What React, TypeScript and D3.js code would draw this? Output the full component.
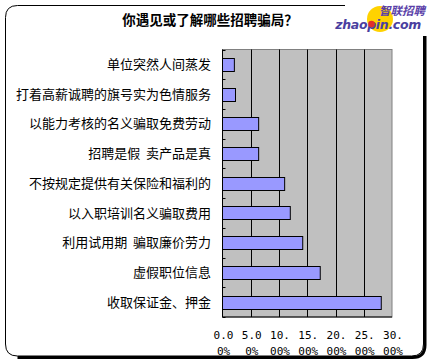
import React from "react";
import * as d3 from "d3";

const categories = [
  "单位突然人间蒸发",
  "打着高薪诚聘的旗号实为色情服务",
  "以能力考核的名义骗取免费劳动",
  "招聘是假  卖产品是真",
  "不按规定提供有关保险和福利的",
  "以入职培训名义骗取费用",
  "利用试用期  骗取廉价劳力",
  "虚假职位信息",
  "收取保证金、押金",
];
const values = [2.1, 2.3, 6.4, 6.4, 11.0, 12.0, 14.2, 17.3, 28.1];
const tickValues = [0, 5, 10, 15, 20, 25, 30];
const tickLabels = [
  ["0.0", "0%"],
  ["5.0", "0%"],
  ["10.", "00%"],
  ["15.", "00%"],
  ["20.", "00%"],
  ["25.", "00%"],
  ["30.", "00%"],
];
const title = "你遇见或了解哪些招聘骗局？";

export default function App() {
  const W = 433, H = 364;
  const left = 222.5, right = 392, top = 49.5, bottom = 317;
  const x = d3.scaleLinear().domain([0, 30]).range([left, right]);
  const y = d3.scaleBand<string>().domain(categories).range([top, bottom]).paddingInner(0.56).paddingOuter(0.28);
  const step = (bottom - top) / categories.length;
  const cjk = "'Noto Sans CJK SC', sans-serif";

  const r = 12;
  const fx0 = 5.5, fy0 = 5.5, fx1 = 423.5, fy1 = 356;
  return (
    <svg width={W} height={H} style={{ position: "absolute", left: 0, top: 0, background: "#fff" }}>
      {/* frame */}
      <path
        d={`M${fx0 + r},${fy0} H${fx1 - r} Q${fx1},${fy0} ${fx1},${fy0 + r} V${fy1 - r} Q${fx1},${fy1} ${fx1 - r},${fy1} H${fx0 + r} Q${fx0},${fy1} ${fx0},${fy1 - r} V${fy0 + r} Q${fx0},${fy0} ${fx0 + r},${fy0} Z`}
        fill="none"
        stroke="#000"
        strokeWidth={1}
      />
      <path
        d={`M${fx1 + 1.5},${fy0 + r} V${fy1 - r + 1} Q${fx1 + 1.5},${fy1 + 1.5} ${fx1 - r + 1},${fy1 + 1.5} H${fx0 + r}`}
        fill="none"
        stroke="#000"
        strokeWidth={3}
      />
      {/* logo area */}
      <rect x={345} y={0} width={88} height={36} fill="#fff" />
      <circle cx={380} cy={19} r={13} fill="#FFD200" />
      <text x={425} y={15} textAnchor="end" fontFamily={cjk} fontSize={11.5} fontStyle="italic" fontWeight="bold" fill="#5A3FA8">智联招聘</text>
      <text x={421} y={29} textAnchor="end" fontFamily="'DejaVu Sans', sans-serif" fontSize={12.5} fontStyle="italic" fontWeight="bold" fill="#4A3FA0" letterSpacing={-0.3}>zhaopin.com</text>
      <circle cx={371.5} cy={24} r={3.3} fill="#E0302A" />
      {/* title */}
      <text x={210} y={25} textAnchor="middle" fontFamily={cjk} fontSize={13.5} fontWeight="bold" fill="#000">{title}</text>
      {/* plot area */}
      <rect x={left} y={top} width={right - left} height={bottom - top} fill="#C0C0C0" stroke="#808080" strokeWidth={1} />
      {tickValues.slice(1, -1).map((t) => (
        <line key={t} x1={Math.round(x(t)) + 0.5} x2={Math.round(x(t)) + 0.5} y1={top} y2={bottom} stroke="#000" />
      ))}
      {categories.map((c, i) => (
        <rect
          key={c}
          x={left}
          y={Math.round(y(c)!) + 0.5}
          width={x(values[i]) - left}
          height={Math.round(y.bandwidth())}
          fill="#9999FF"
          stroke="#000"
          strokeWidth={1}
        />
      ))}
      {/* axes */}
      <line x1={left} x2={left} y1={top} y2={bottom} stroke="#000" />
      <line x1={left} x2={right} y1={bottom} y2={bottom} stroke="#000" />
      {d3.range(categories.length + 1).map((i) => (
        <line key={i} x1={left} x2={left + 3} y1={Math.round(top + i * step) + 0.5} y2={Math.round(top + i * step) + 0.5} stroke="#000" />
      ))}
      {/* category labels */}
      {categories.map((c) => (
        <text key={c} x={211} y={y(c)! + y.bandwidth() / 2} dy="0.35em" textAnchor="end" fontFamily={cjk} fontSize={13} fill="#000" style={{ whiteSpace: "pre" }}>
          {c}
        </text>
      ))}
      {/* tick labels */}
      {tickValues.map((t, i) => (
        <g key={t} fontFamily="'DejaVu Sans Mono', monospace" fontSize={11} fill="#000" textAnchor="middle">
          <text x={x(t) + 1} y={339}>{tickLabels[i][0]}</text>
          <text x={x(t) + 1} y={355}>{tickLabels[i][1]}</text>
        </g>
      ))}
    </svg>
  );
}
